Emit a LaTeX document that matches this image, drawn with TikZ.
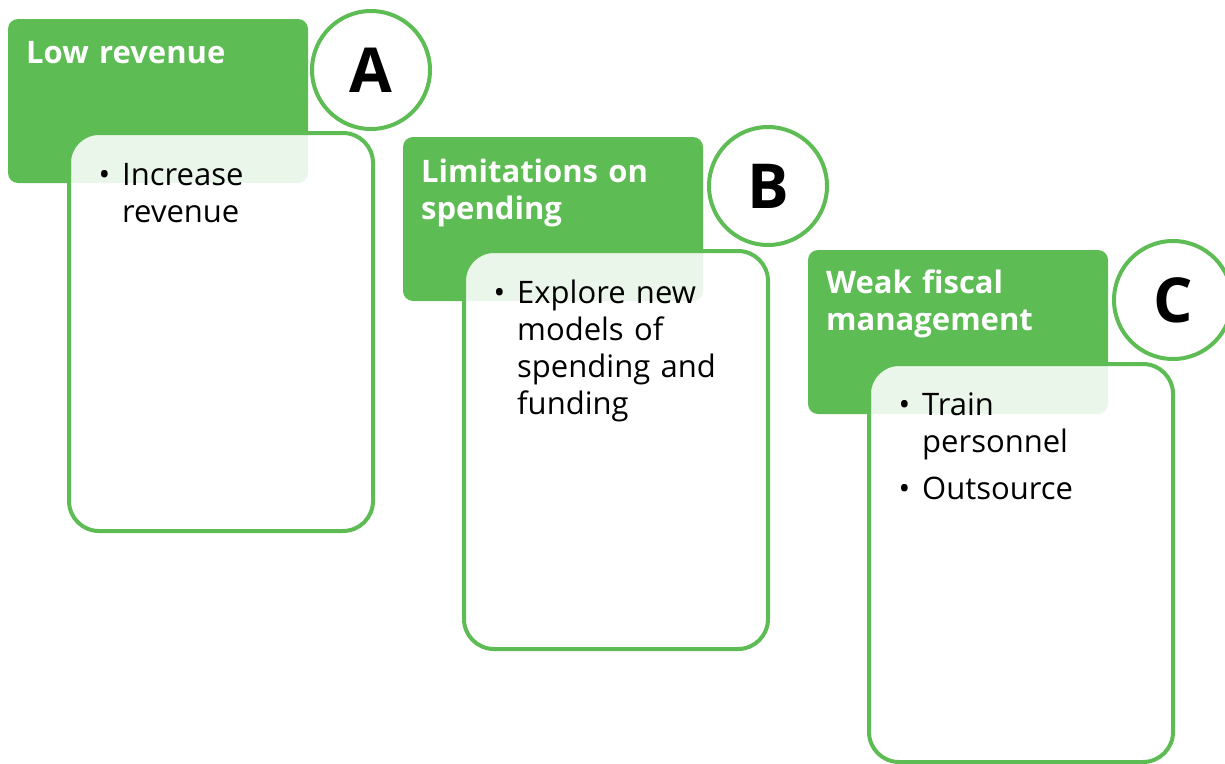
\documentclass[tikz,border=0pt]{standalone}
\usepackage{fontspec}
\setmainfont{Open Sans}
\definecolor{leafgreen}{RGB}{94,188,84}
\newcommand{\bitem}{\llap{\textbullet\hspace{12pt}}}

\begin{document}
\begin{tikzpicture}[x=1pt, y=-1pt,
  headbox/.style={fill=leafgreen, rounded corners=10pt, minimum width=300pt, minimum height=164pt, anchor=north west, inner sep=0, outer sep=0},
  bodybox/.style={draw=leafgreen, line width=4pt, fill=white, fill opacity=0.88, rounded corners=30pt, minimum width=304pt, minimum height=398pt, anchor=north west, inner sep=0},
  badge/.style={circle, draw=leafgreen, line width=4pt, fill=white, minimum size=118pt, inner sep=0, font=\fontsize{62}{62}\selectfont\bfseries},
  headtext/.style={text=white, font=\fontsize{31}{37}\selectfont\bfseries, text width=270pt, align=left, inner sep=0, anchor=base west},
  bodytext/.style={font=\fontsize{31}{37}\selectfont, text width=240pt, align=left, inner sep=0, anchor=base west}]
\useasboundingbox (0,0) rectangle (1225,763);
% A
\node[headbox] (hA) at (8,19) {};
\node[bodybox] (bA) at (67,131) {};
\node[badge] (cA) at (371,70) {A};
\node[headtext] (tA) at (26,63) {Low revenue};
\node[bodytext] (iA) at (122,185) {\bitem Increase\\revenue};
% B
\node[headbox] (hB) at (403,137) {};
\node[bodybox] (bB) at (462,249) {};
\node[badge] (cB) at (768,186) {B};
\node[headtext] (tB) at (421,182) {Limitations on\\spending};
\node[bodytext] (iB) at (517,303) {\bitem Explore new\\models of\\spending and\\funding};
% C
\node[headbox] (hC) at (808,250) {};
\node[bodybox] (bC) at (867,362) {};
\node[badge] (cC) at (1173,300) {C};
\node[headtext] (tC) at (826,293) {Weak fiscal\\management};
\node[bodytext] (iC) at (922,415) {\bitem Train\\personnel};
\node[bodytext] (iC2) at (922,499) {\bitem Outsource};
\end{tikzpicture}
\end{document}
